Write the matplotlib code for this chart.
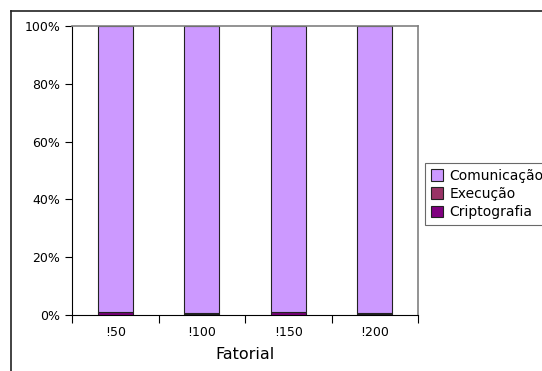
import matplotlib
matplotlib.use('Agg')
import matplotlib.pyplot as plt
from matplotlib.lines import Line2D
from matplotlib.ticker import FixedLocator, PercentFormatter

categories = ['!50', '!100', '!150', '!200']
criptografia = [0.9, 0.5, 0.9, 0.5]
execucao = [0.2, 0.2, 0.2, 0.2]
comunicacao = [98.9, 99.3, 98.9, 99.3]

colors = {'Comunicação': '#CC99FF', 'Execução': '#993366', 'Criptografia': '#800080'}

fig = plt.figure(figsize=(5.42, 3.71), dpi=100)
ax = fig.add_axes([72 / 542, 1 - 315 / 371, (418 - 72) / 542, (315 - 26) / 371])

x = range(len(categories))
bottom2 = [a + b for a, b in zip(criptografia, execucao)]
b1 = ax.bar(x, criptografia, width=0.4, color=colors['Criptografia'], edgecolor='#222222', linewidth=0.8, label='Criptografia')
b2 = ax.bar(x, execucao, width=0.4, bottom=criptografia, color=colors['Execução'], edgecolor='#222222', linewidth=0.8, label='Execução')
b3 = ax.bar(x, comunicacao, width=0.4, bottom=bottom2, color=colors['Comunicação'], edgecolor='#222222', linewidth=0.8, label='Comunicação')

ax.set_xlim(-0.5, len(categories) - 0.5)
ax.set_ylim(0, 100)
ax.set_yticks([0, 20, 40, 60, 80, 100])
ax.yaxis.set_major_formatter(PercentFormatter(decimals=0))
ax.set_xticks(list(x))
ax.set_xticklabels(categories)
ax.xaxis.set_minor_locator(FixedLocator([i - 0.5 for i in range(len(categories) + 1)]))
ax.tick_params(axis='x', which='major', length=0, labelsize=9, pad=8)
ax.tick_params(axis='x', which='minor', length=6, width=0.8, direction='out')
ax.tick_params(axis='y', length=5, width=0.8, direction='out', labelsize=9)
ax.set_xlabel('Fatorial', fontsize=11.5, labelpad=6)

for side in ['top', 'right']:
    ax.spines[side].set_color('#808080')
    ax.spines[side].set_linewidth(1.2)
for side in ['left', 'bottom']:
    ax.spines[side].set_color('black')
    ax.spines[side].set_linewidth(0.8)

leg = fig.legend(handles=[b3, b2, b1], labels=['Comunicação', 'Execução', 'Criptografia'],
                 loc='upper left', bbox_to_anchor=(425 / 542, 1 - 163 / 371),
                 fontsize=10, frameon=True, fancybox=False, edgecolor='#444444',
                 handlelength=0.9, handleheight=0.9, handletextpad=0.45,
                 borderpad=0.4, labelspacing=0.32, borderaxespad=0)
leg.get_frame().set_linewidth(0.8)

# outer chart border
fig.add_artist(Line2D([11 / 542, 11 / 542], [0, 1 - 11 / 371], color='#222222', linewidth=1.2))
fig.add_artist(Line2D([11 / 542, 1], [1 - 11 / 371, 1 - 11 / 371], color='#222222', linewidth=1.2))

fig.savefig('out.png', dpi=100)
